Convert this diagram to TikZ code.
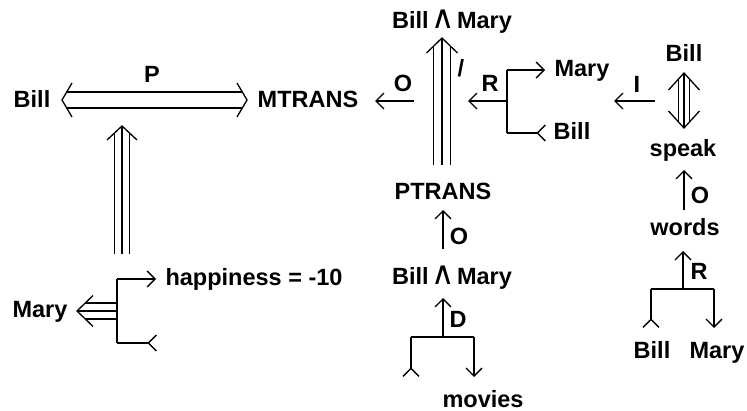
\documentclass[tikz,border=0pt]{standalone}
\usepackage{fontspec}
\setmainfont{Liberation Sans}
\newfontfamily\symfont{DejaVu Sans}
\usetikzlibrary{arrows.meta,calc}
\newcommand{\wedgesym}{\kern-4pt{\symfont\mdseries\fontsize{32}{32}\selectfont ∧}\kern-4pt}
\begin{document}
\begin{tikzpicture}[x=1pt,y=-1pt, line width=1.3pt,
  lbl/.style={anchor=base, inner sep=0pt, font=\fontsize{23.5}{27}\selectfont\bfseries},
  arr/.style={-{Straight Barb[length=8pt,width=16pt]}},
  tl/.style={-{Straight Barb[reversed,length=8pt,width=16pt]}}]
\fill[white] (0,0) rectangle (747,411);
\useasboundingbox (0,0) rectangle (747,411);
% ---------- texts ----------
\node[lbl] (P) at (152,83) {P};
\node[lbl] (bill1) at (32,108) {Bill};
\node[lbl] (mtrans) at (308,108) {MTRANS};
\node[lbl] (o1) at (403,92) {O};
\node[lbl] (bm1) at (452,29) {Bill \wedgesym{} Mary};
\node[lbl] (slash) at (461,77) {/};
\node[lbl] (r1) at (490,92) {R};
\node[lbl] (mary1) at (582,77) {Mary};
\node[lbl] (bill2) at (572,140) {Bill};
\node[lbl] (i) at (637,93) {I};
\node[lbl] (bill3) at (684,62) {Bill};
\node[lbl] (speak) at (683,157) {speak};
\node[lbl] (o3) at (700,204) {O};
\node[lbl] (words) at (685,236) {words};
\node[lbl] (r3) at (699,280) {R};
\node[lbl] (bill4) at (652,359) {Bill};
\node[lbl] (mary4) at (717,359) {Mary};
\node[lbl] (ptrans) at (443,200) {PTRANS};
\node[lbl] (o2) at (459,245) {O};
\node[lbl] (bm2) at (452,285) {Bill \wedgesym{} Mary};
\node[lbl] (d) at (458,328) {D};
\node[lbl] (movies) at (483,407) {movies};
\node[lbl] (mary0) at (40,318) {Mary};
\node[lbl] (happy) at (254,286) {happiness = -10};
% ---------- coordinates ----------
\coordinate (hL) at (62,100); \coordinate (hR) at (247,100);
\coordinate (vT) at (122,126); \coordinate (vB) at (122,254);
\coordinate (mT) at (77,311);
\coordinate (b0t) at (117,279); \coordinate (b0m) at (117,311); \coordinate (b0b) at (117,343);
\coordinate (b0te) at (156,279); \coordinate (b0be) at (157,343);
\coordinate (cT) at (442,38); \coordinate (cB) at (442,165);
\coordinate (o1s) at (414,101); \coordinate (o1e) at (375,101);
\coordinate (r1m) at (507,101); \coordinate (r1e) at (468,101);
\coordinate (r1t) at (507,70); \coordinate (r1b) at (507,133);
\coordinate (r1te) at (545,70); \coordinate (r1be) at (546,133);
\coordinate (is) at (655,101); \coordinate (ie) at (614,101);
\coordinate (sT) at (684,73); \coordinate (sB) at (684,128);
\coordinate (o3s) at (684,210); \coordinate (o3e) at (684,170);
\coordinate (r3s) at (683,289); \coordinate (r3e) at (683,251);
\coordinate (wl) at (651,289); \coordinate (wr) at (714,289);
\coordinate (wle) at (651,328); \coordinate (wre) at (714,328);
\coordinate (o2s) at (443,249); \coordinate (o2e) at (443,210);
\coordinate (ds) at (443,337); \coordinate (de) at (443,298);
\coordinate (ml) at (411,337); \coordinate (mr) at (474,337);
\coordinate (mle) at (411,377); \coordinate (mre) at (474,377);
% ---------- double horizontal arrow Bill <=> MTRANS ----------
\draw ($(hL)+(10,-17)$) -- (hL) -- ($(hL)+(10,17)$);
\draw ($(hR)+(-10,-17)$) -- (hR) -- ($(hR)+(-10,17)$);
\foreach \dy in {-8,8} \draw ($(hL)+(5,\dy)$) -- ($(hR)+(-5,\dy)$);
% ---------- vertical triple arrow (left) ----------
\draw ($(vT)+(-15,14)$) -- (vT) -- ($(vT)+(15,14)$);
\foreach \dx in {-7.5,7.5} \draw ($(vT)+(\dx,7)$) -- ($(vB)+(\dx,0)$);
\draw ($(vT)+(0,1)$) -- (vB);
% ---------- Mary triple arrow ----------
\draw ($(mT)+(16,-15.5)$) -- (mT) -- ($(mT)+(16,15.5)$);
\foreach \dy in {-8,8} \draw ($(mT)+(8.3,\dy)$) -- ($(b0m)+(0,\dy)$);
\draw ($(mT)+(1,0)$) -- (b0m);
\draw (b0t) -- (b0b);
\draw[arr] (b0t) -- (b0te);
\draw[tl] (b0b) -- (b0be);
% ---------- central triple arrow PTRANS => Bill^Mary ----------
\draw ($(cT)+(-15.5,15)$) -- (cT) -- ($(cT)+(15.5,15)$);
\foreach \dx in {-8.5,8.5} \draw ($(cT)+(\dx,8.2)$) -- ($(cB)+(\dx,0)$);
\draw ($(cT)+(0,1)$) -- (cB);
% ---------- O, R arrows ----------
\draw[arr] (o1s) -- (o1e);
\draw[arr] (r1m) -- (r1e);
\draw (r1t) -- (r1b);
\draw[arr] (r1t) -- (r1te);
\draw[tl] (r1b) -- (r1be);
\draw[arr] (is) -- (ie);
% ---------- Bill <=> speak ----------
\draw ($(sT)+(-15.5,17)$) -- (sT) -- ($(sT)+(15.5,17)$);
\draw ($(sB)+(-15.5,-17)$) -- (sB) -- ($(sB)+(15.5,-17)$);
\foreach \dx in {-5.5,5.5} \draw ($(sT)+(\dx,6)$) -- ($(sB)+(\dx,-6)$);
\draw ($(sT)+(0,1)$) -- ($(sB)+(0,-1)$);
% ---------- right column ----------
\draw[arr] (o3s) -- (o3e);
\draw[arr] (r3s) -- (r3e);
\draw (wl) -- (wr);
\draw[tl] (wl) -- (wle);
\draw[arr] (wr) -- (wre);
% ---------- middle bottom ----------
\draw[arr] (o2s) -- (o2e);
\draw[arr] (ds) -- (de);
\draw (ml) -- (mr);
\draw[tl] (ml) -- (mle);
\draw[arr] (mr) -- (mre);
\end{tikzpicture}
\end{document}
